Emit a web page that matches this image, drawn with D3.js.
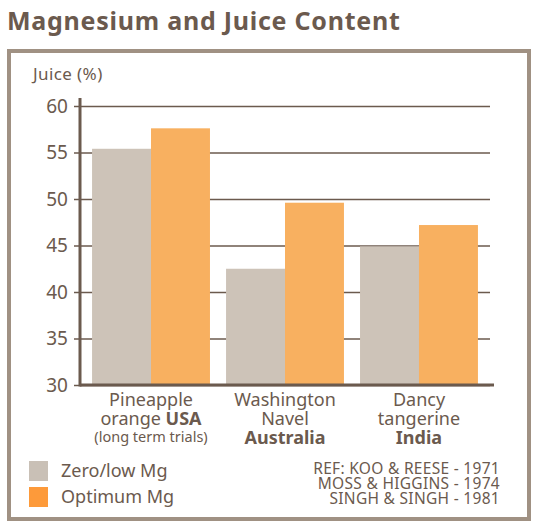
<!DOCTYPE html>
<html>
<head>
<meta charset="utf-8">
<script src="https://cdn.jsdelivr.net/npm/d3@7"></script>
<style>
  body { margin: 0; background: #fff; }
  text { font-family: "Noto Sans", "Open Sans", sans-serif; fill: #6b5a4e; }
</style>
</head>
<body>
<div class="viz"></div>
<script>
// chart data
const categories = ["Pineapple orange", "Washington Navel", "Dancy tangerine"];
const labelLines = [
  [["Pineapple", false], ["orange ", false, "USA"], ["(long term trials)", false, null, true]],
  [["Washington", false], ["Navel", false], ["Australia", true]],
  [["Dancy", false], ["tangerine", false], ["India", true]]
];
const series = ["Zero/low Mg", "Optimum Mg"];
const zeroLowMg = [55.4, 42.5, 44.9];
const optimumMg = [57.6, 49.6, 47.2];
const yTicks = [30, 35, 40, 45, 50, 55, 60];
const refLines = ["REF: KOO & REESE - 1971", "MOSS & HIGGINS - 1974", "SINGH & SINGH - 1981"];

const width = 535, height = 526;
const margin = ({top: 106, right: 45, bottom: 141, left: 80});
const barColors = ["#cdc3b8", "#f8b060"];
const legendColors = ["#c9c0b6", "#fd9a3a"];
const ink = "#6b5a4e";

const svg = d3.select('.viz').append('svg')
    .attr('width', width)
    .attr('height', height);

// title
svg.append("text")
    .attr("x", 7).attr("y", 30)
    .attr("font-size", 25).attr("font-weight", "bold")
    .attr("letter-spacing", 0.75)
    .text("Magnesium and Juice Content");

// frame
svg.append("rect")
    .attr("x", 9).attr("y", 51)
    .attr("width", 520).attr("height", 468)
    .attr("fill", "none").attr("stroke", "#a09183").attr("stroke-width", 4);

const x = d3.scaleBand()
    .domain(categories)
    .range([margin.left, width - margin.right])
    .paddingInner(0.12)
    .paddingOuter(0.09);

const x1 = d3.scaleBand()
    .domain(series)
    .range([0, x.bandwidth()]);

const y = d3.scaleLinear()
    .domain([30, 60])
    .range([height - margin.bottom, margin.top]);

// grid lines
svg.append("g")
    .attr("transform", `translate(${margin.left},0)`)
    .call(d3.axisLeft(y).tickValues(yTicks).tickSize(-(width - margin.right - margin.left)).tickFormat(""))
    .call(g => g.select(".domain").remove())
    .call(g => g.selectAll("line").attr("stroke", ink).attr("stroke-width", 1.5));

// bars
const data = categories.map((c, i) => ({cat: c, values: [zeroLowMg[i], optimumMg[i]]}));
svg.append("g")
  .selectAll("g").data(data).enter().append("g")
    .attr("transform", d => `translate(${x(d.cat)},0)`)
  .selectAll("rect").data(d => d.values.map((v, j) => ({s: series[j], v: v, j: j}))).enter().append("rect")
    .attr("x", d => x1(d.s))
    .attr("y", d => y(d.v))
    .attr("width", x1.bandwidth())
    .attr("height", d => y(30) - y(d.v))
    .attr("fill", d => barColors[d.j]);

// y axis
svg.append("g")
    .attr("transform", `translate(${margin.left},0)`)
    .call(d3.axisLeft(y).tickValues(yTicks).tickSize(6).tickPadding(6).tickSizeOuter(0))
    .call(g => g.select(".domain").attr("stroke", ink).attr("stroke-width", 3)
        .attr("d", `M0,${margin.top - 8}V${y(30) + 1.5}`))
    .call(g => g.selectAll(".tick line").attr("stroke", ink).attr("stroke-width", 1.5))
    .call(g => g.selectAll(".tick text").attr("font-size", 19).attr("fill", ink)
        .attr("font-family", "Noto Sans, sans-serif"));

// x baseline
svg.append("line")
    .attr("x1", margin.left).attr("x2", width - margin.right + 4)
    .attr("y1", y(30)).attr("y2", y(30))
    .attr("stroke", ink).attr("stroke-width", 3);

// y axis title
svg.append("text")
    .attr("x", 33).attr("y", 80)
    .attr("font-size", 17)
    .attr("letter-spacing", 0.4)
    .text("Juice (%)");

// category labels
const catLabels = svg.append("g")
  .selectAll("text").data(categories).enter().append("text")
    .attr("text-anchor", "middle")
    .attr("transform", d => `translate(${x(d) + x.bandwidth() / 2},0)`);

catLabels.each(function(d, i) {
  const t = d3.select(this);
  labelLines[i].forEach((ln, k) => {
    const small = ln[3];
    t.append("tspan")
        .attr("x", 0)
        .attr("y", 406 + k * 19 - (small ? 2 : 0))
        .attr("font-size", small ? 14.5 : 18)
        .attr("font-weight", ln[1] ? "bold" : "normal")
        .text(ln[0]);
    if (ln[2]) {
      t.append("tspan").attr("font-size", 18).attr("font-weight", "bold").text(ln[2]);
    }
  });
});

// legend
const legend = svg.append("g");
series.forEach((s, i) => {
  legend.append("rect")
      .attr("x", 29).attr("y", 461 + i * 26)
      .attr("width", 19).attr("height", 20)
      .attr("fill", legendColors[i]);
  legend.append("text")
      .attr("x", 61).attr("y", 477 + i * 26)
      .attr("font-size", 18)
      .text(s);
});

// references
svg.append("g")
  .selectAll("text").data(refLines).enter().append("text")
    .attr("x", 500)
    .attr("y", (d, i) => 474 + i * 15)
    .attr("text-anchor", "end")
    .attr("font-size", 15.5)
    .attr("letter-spacing", 0.3)
    .text(d => d);
</script>
</body>
</html>
